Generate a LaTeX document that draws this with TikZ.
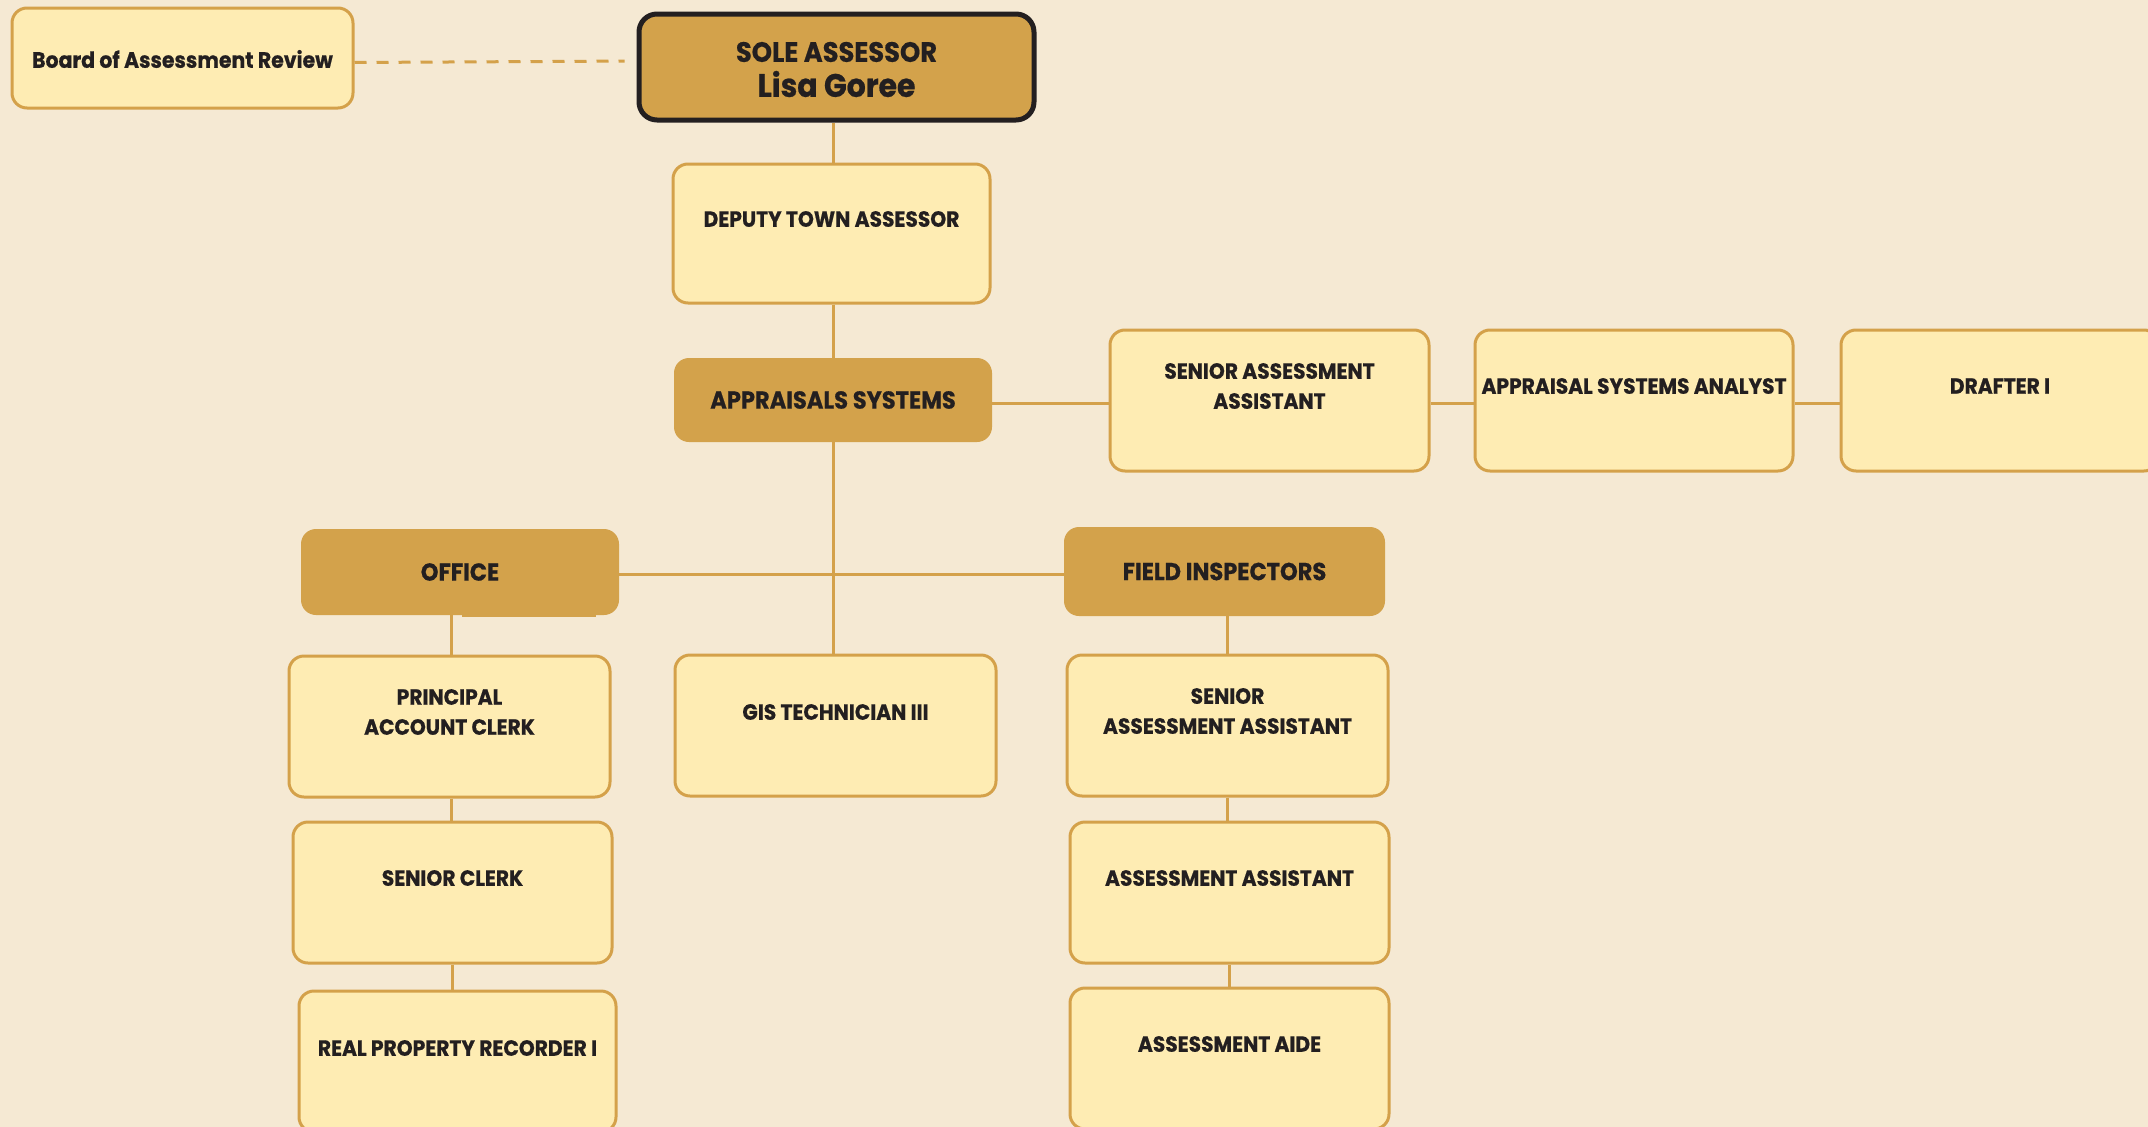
\documentclass[tikz,border=0pt]{standalone}
\usepackage{fontspec}
\setmainfont{Poppins}[FakeStretch=0.92, BoldFeatures={FakeBold=0.6}]
\definecolor{bg}{HTML}{F5E9D3}
\definecolor{lightfill}{HTML}{FEECB3}
\definecolor{gold}{HTML}{D4A14A}
\definecolor{darkfill}{HTML}{D3A24B}
\definecolor{ink}{HTML}{231F20}
\tikzset{
  lbox/.style={draw=gold, line width=3pt, fill=lightfill, rounded corners=15pt, inner sep=0pt},
  dbox/.style={fill=darkfill, rounded corners=15pt, inner sep=0pt, font=\fontsize{24.5}{28}\selectfont\bfseries, text=ink},
  txt/.style={font=\fontsize{22}{30}\selectfont\bfseries, text=ink, align=center, inner sep=0pt},
  conn/.style={draw=gold, line width=3pt},
}
\begin{document}
\begin{tikzpicture}[x=1pt, y=-1pt]
\useasboundingbox[fill=bg] (0,0) rectangle (2148,1127);
% top
\node[lbox, minimum width=341pt, minimum height=100pt] (board) at (182.5,58) {};
\node[txt, font=\fontsize{22.2}{26}\selectfont\bfseries] (boardT) at (182.5,59) {Board of Assessment Review};
\node[fill=darkfill, draw=ink, line width=5pt, rounded corners=18pt, minimum width=395pt, minimum height=106pt, inner sep=0pt] (sole) at (836.5,67) {};
\node[txt, font=\fontsize{28}{32}\selectfont\bfseries] (soleT1) at (836.5,52) {SOLE ASSESSOR};
\node[txt, font=\fontsize{32.5}{36}\selectfont\bfseries] (soleT2) at (836.5,84) {Lisa Goree};
\node[lbox, minimum width=317pt, minimum height=139pt] (deputy) at (831.5,233.5) {};
\node[txt] (deputyT) at (831.5,219) {DEPUTY TOWN ASSESSOR};
\node[dbox, minimum width=318pt, minimum height=84pt] (apprs) at (833,400) {APPRAISALS SYSTEMS};
% right row
\node[lbox, minimum width=319pt, minimum height=141pt] (ssa1) at (1269.5,400.5) {};
\node[txt] (ssa1T) at (1269.5,386) {SENIOR ASSESSMENT\\ASSISTANT};
\node[lbox, minimum width=318pt, minimum height=141pt] (asa) at (1634,400.5) {};
\node[txt] (asaT) at (1634,386) {APPRAISAL SYSTEMS ANALYST};
\node[lbox, minimum width=318pt, minimum height=141pt] (drafter) at (2000,400.5) {};
\node[txt] (drafterT) at (2000,386) {DRAFTER I};
% middle row
\node[dbox, minimum width=318pt, minimum height=86pt] (office) at (460,572) {OFFICE};
\fill[darkfill] (462,610) rectangle (596,617);
\node[dbox, minimum width=321pt, minimum height=89pt] (field) at (1224.5,571.5) {FIELD INSPECTORS};
% office column
\node[lbox, minimum width=321pt, minimum height=141pt] (pac) at (449.5,726.5) {};
\node[txt] (pacT) at (449.5,712) {PRINCIPAL\\ACCOUNT CLERK};
\node[lbox, minimum width=319pt, minimum height=141pt] (sclerk) at (452.5,892.5) {};
\node[txt] (sclerkT) at (452.5,878) {SENIOR CLERK};
\node[lbox, minimum width=317pt, minimum height=141pt] (rpr) at (457.5,1061.5) {};
\node[txt] (rprT) at (457.5,1048) {REAL PROPERTY RECORDER I};
% gis
\node[lbox, minimum width=321pt, minimum height=141pt] (gis) at (835.5,725.5) {};
\node[txt] (gisT) at (835.5,712) {GIS TECHNICIAN III};
% field column
\node[lbox, minimum width=321pt, minimum height=141pt] (ssa2) at (1227.5,725.5) {};
\node[txt] (ssa2T) at (1227.5,711) {SENIOR\\ASSESSMENT ASSISTANT};
\node[lbox, minimum width=319pt, minimum height=141pt] (aa) at (1229.5,892.5) {};
\node[txt] (aaT) at (1229.5,878) {ASSESSMENT ASSISTANT};
\node[lbox, minimum width=319pt, minimum height=141pt] (aide) at (1229.5,1058.5) {};
\node[txt] (aideT) at (1229.5,1044) {ASSESSMENT AIDE};
% connectors
\draw[gold, line width=3pt, dashed, dash pattern=on 12pt off 10pt, shorten >=12pt] ([yshift=-4.5pt]board.east) -- ([yshift=6pt]sole.west);
\draw[conn] (apprs.north |- sole.south) -- (apprs.north |- deputy.north);
\draw[conn] (apprs.north |- deputy.south) -- (apprs.north);
\draw[conn] (apprs.south) -- (apprs.south |- gis.north);
\draw[conn] ([yshift=-3pt]apprs.east) -- ([yshift=-3pt]apprs.east -| ssa1.west);
\draw[conn] ([yshift=-3pt]ssa1.east) -- ([yshift=-3pt]ssa1.east -| asa.west);
\draw[conn] ([yshift=-3pt]asa.east) -- ([yshift=-3pt]asa.east -| drafter.west);
\draw[conn] ([yshift=-2pt]office.east) -- ([yshift=-2pt]office.east -| field.west);
\draw[conn] ([xshift=2pt]pac.north |- office.south) -- ([xshift=2pt]pac.north);
\draw[conn] ([xshift=2pt]pac.south) -- ([xshift=2pt]pac.south |- sclerk.north);
\draw[conn] (sclerk.south) -- (sclerk.south |- rpr.north);
\draw[conn] (ssa2.north |- field.south) -- (ssa2.north);
\draw[conn] (ssa2.south) -- (ssa2.south |- aa.north);
\draw[conn] (aa.south) -- (aa.south |- aide.north);
\end{tikzpicture}
\end{document}
